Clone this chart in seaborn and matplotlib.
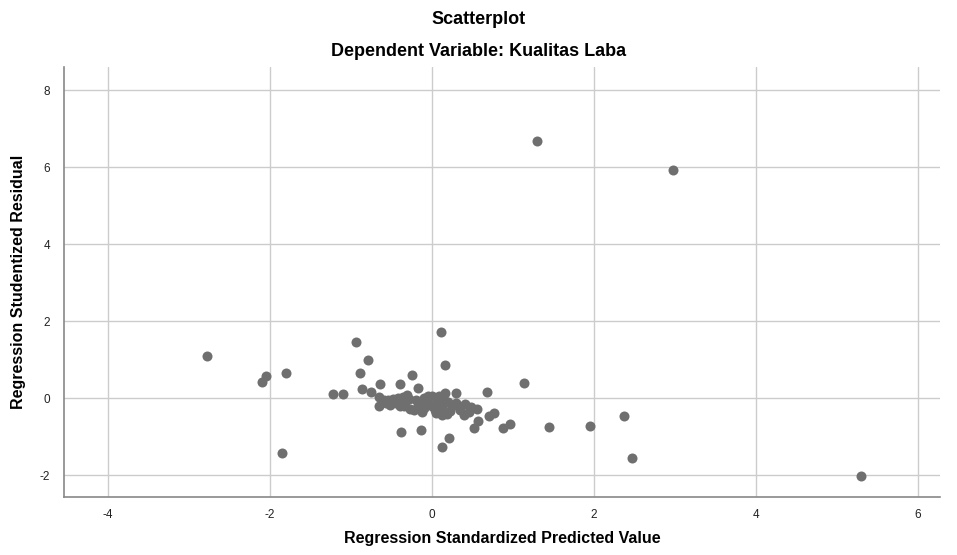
import matplotlib
matplotlib.use("Agg")
import matplotlib.pyplot as plt
import seaborn as sns
import pandas as pd

pred = [
    -2.78, -2.10, -2.05, -1.80, -1.85, 1.30, 2.97, 5.30, 2.47, 2.37,
    1.95, 1.44, 1.14, 0.11, 0.16, -0.94, -0.79, -0.89, -0.25, -0.64,
    -0.40, -0.86, -0.75, -0.17, -1.23, -1.10, 0.68, 0.29, 0.16, -0.66,
    -0.66, -0.54, -0.52, -0.40, -0.27, -0.22, -0.39, -0.14, 0.21, 0.12,
    0.52, 0.57, 0.87, 0.96, 0.70, 0.76, 0.55, 0.39, 0.12,
    -0.48, -0.42, -0.36, -0.31, -0.28, -0.33, -0.45, -0.20, -0.15, -0.10,
    -0.05, 0.00, 0.05, 0.08, -0.18, -0.10, -0.05, 0.00, 0.03, 0.08,
    0.12, 0.15, 0.20, 0.25, 0.30, 0.22, 0.35, 0.40, 0.45, 0.48,
    -0.12, 0.05, 0.18, -0.60, -0.57, -0.35,
]
resid = [
    1.10, 0.42, 0.57, 0.65, -1.43, 6.68, 5.92, -2.01, -1.54, -0.45,
    -0.72, -0.74, 0.39, 1.72, 0.87, 1.47, 0.99, 0.65, 0.60, 0.38,
    0.37, 0.25, 0.17, 0.26, 0.11, 0.12, 0.16, 0.15, 0.14, 0.04,
    -0.19, -0.03, -0.17, -0.21, -0.28, -0.30, -0.88, -0.82, -1.03, -1.26,
    -0.77, -0.60, -0.77, -0.67, -0.47, -0.39, -0.27, -0.43, -0.43,
    -0.02, 0.00, 0.03, 0.08, -0.02, -0.10, -0.12, -0.05, -0.10, 0.02,
    0.05, 0.06, 0.00, 0.05, -0.20, -0.25, -0.15, -0.20, -0.30, -0.12,
    -0.20, -0.05, -0.10, -0.20, -0.12, -0.32, -0.30, -0.15, -0.35, -0.22,
    -0.35, -0.38, -0.40, -0.05, -0.12, -0.20,
]
x_ticks = [-4, -2, 0, 2, 4, 6]
y_ticks = [-2, 0, 2, 4, 6, 8]

df = pd.DataFrame({"pred": pred, "resid": resid})

sns.set_theme(style="white")
plt.rcParams["font.family"] = ["Liberation Sans", "DejaVu Sans"]

fig = plt.figure(figsize=(9.57, 5.55), dpi=100)
ax_h = (497 - 67) / 555
ax_w = (940 - 64) / 957
ax = fig.add_axes([64 / 957, 1 - 497 / 555, ax_w, ax_h])

sns.scatterplot(data=df, x="pred", y="resid", ax=ax, color="#6f6f6f",
                s=52, linewidth=0, zorder=3)

ax.set_xlim(-4.545, 6.27)
ax.set_ylim(-2.56, 8.6)
ax.set_xticks(x_ticks)
ax.set_yticks(y_ticks)
ax.set_xticklabels([str(t) for t in x_ticks])
ax.set_yticklabels([str(t) for t in y_ticks])
ax.grid(True, color="#cccccc", linewidth=1.0, zorder=0)
ax.set_axisbelow(True)
for s in ["top", "right"]:
    ax.spines[s].set_visible(False)
for s in ["left", "bottom"]:
    ax.spines[s].set_color("#888888")
    ax.spines[s].set_linewidth(1.2)
ax.tick_params(axis="x", length=0, labelsize=8.5, labelcolor="#222222", pad=9)
ax.tick_params(axis="y", length=0, labelsize=8.5, labelcolor="#222222", pad=10)

ax.set_xlabel("Regression Standardized Predicted Value", fontsize=11.5,
              fontweight="bold", color="black")
ax.set_ylabel("Regression Studentized Residual", fontsize=11.5,
              fontweight="bold", color="black")
ax.xaxis.set_label_coords(0.5, (497 - 539) / 430 * 1.0)
ax.xaxis.label.set_va("center")
ax.yaxis.set_label_coords((19 - 64) / 876, 0.5)
ax.yaxis.label.set_va("center")

fig.text(0.5, 1 - 19 / 555, "Scatterplot", ha="center", va="center",
         fontsize=13, fontweight="bold", color="black")
fig.text(0.5, 1 - 52 / 555, "Dependent Variable: Kualitas Laba", ha="center",
         va="center", fontsize=13, fontweight="bold", color="black")

fig.savefig("out.png", dpi=100)
